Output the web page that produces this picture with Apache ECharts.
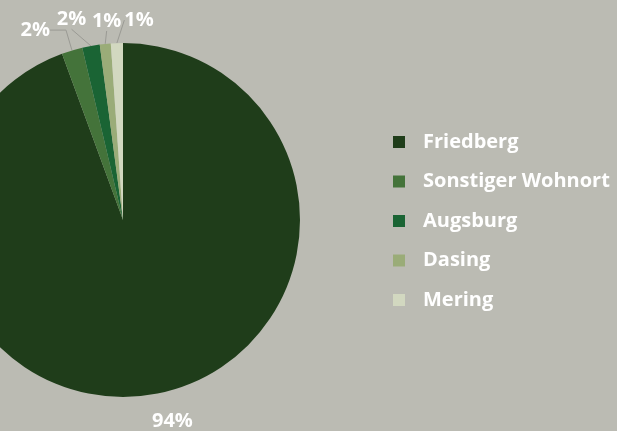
<!DOCTYPE html>
<html>
<head>
<meta charset="utf-8">
<script src="https://cdn.jsdelivr.net/npm/echarts@6/dist/echarts.min.js"></script>
<style>
html,body{margin:0;padding:0;background:#bbbbb3;}
#chart{width:617px;height:431px;}
</style>
</head>
<body>
<div id="chart"></div>
<script>
// Wohnorte
var names=['Friedberg','Sonstiger Wohnort','Augsburg','Dasing','Mering'];
var values=[94.4,1.9,1.6,1.0,1.1];
var colors=['#1f3d1a','#44733a','#1a6434','#9aac78','#d2d8c0'];

// Länge der Beschriftungslinien je Segment
var lineLen=[[10,0],[14,16],[20,0],[16,0],[16,0]];

var pieData=[];
for(var i=0;i<names.length;i++){
    pieData.push({
        name:names[i],
        value:values[i],
        labelLine:{
            length:lineLen[i][0],
            length2:lineLen[i][1],
            lineStyle:{color:i==0?'rgba(0,0,0,0)':'#9a9a94'}
        }
    });
}

var myChart=echarts.init(document.getElementById('chart'));
var option={
    backgroundColor:'#bbbbb3',
    color:colors,
    animation:false,
    legend:{
        orient:'vertical',
        left:393,
        top:132,
        padding:0,
        itemWidth:12,
        itemHeight:12,
        itemGap:19.5,
        icon:'rect',
        textStyle:{
            color:'#ffffff',
            fontSize:20,
            lineHeight:20,
            fontWeight:'bold',
            fontFamily:'Open Sans',
            padding:[0,0,0,13]
        },
        data:names
    },
    series:[{
        type:'pie',
        center:[123,220],
        radius:[0,177],
        startAngle:90,
        clockwise:true,
        avoidLabelOverlap:false,
        label:{
            show:true,
            position:'outside',
            color:'#ffffff',
            fontSize:20,
            fontWeight:'bold',
            fontFamily:'Open Sans',
            formatter:function(p){return Math.round(p.percent)+'%';}
        },
        labelLine:{
            show:true,
            lineStyle:{color:'#9a9a94',width:1}
        },
        labelLayout:function(p){
            var pts=p.labelLinePoints;
            var end=pts[pts.length-1];
            switch(p.dataIndex){
                case 0: return {x:pts[0][0]-2,y:pts[0][1]+17,align:'left',verticalAlign:'top',hideOverlap:false};
                case 1: return {x:end[0]-2,y:end[1]-7,align:'right',verticalAlign:'middle',hideOverlap:false};
                case 2: return {x:end[0]-1,y:end[1]+3,align:'right',verticalAlign:'bottom',hideOverlap:false};
                case 3: return {x:end[0]+3,y:end[1]+3,align:'center',verticalAlign:'bottom',hideOverlap:false};
                default: return {x:end[0]+8,y:end[1]+3,align:'left',verticalAlign:'bottom',hideOverlap:false};
            }
        },
        itemStyle:{borderWidth:0},
        data:pieData
    }]
};
myChart.setOption(option);
</script>
</body>
</html>
